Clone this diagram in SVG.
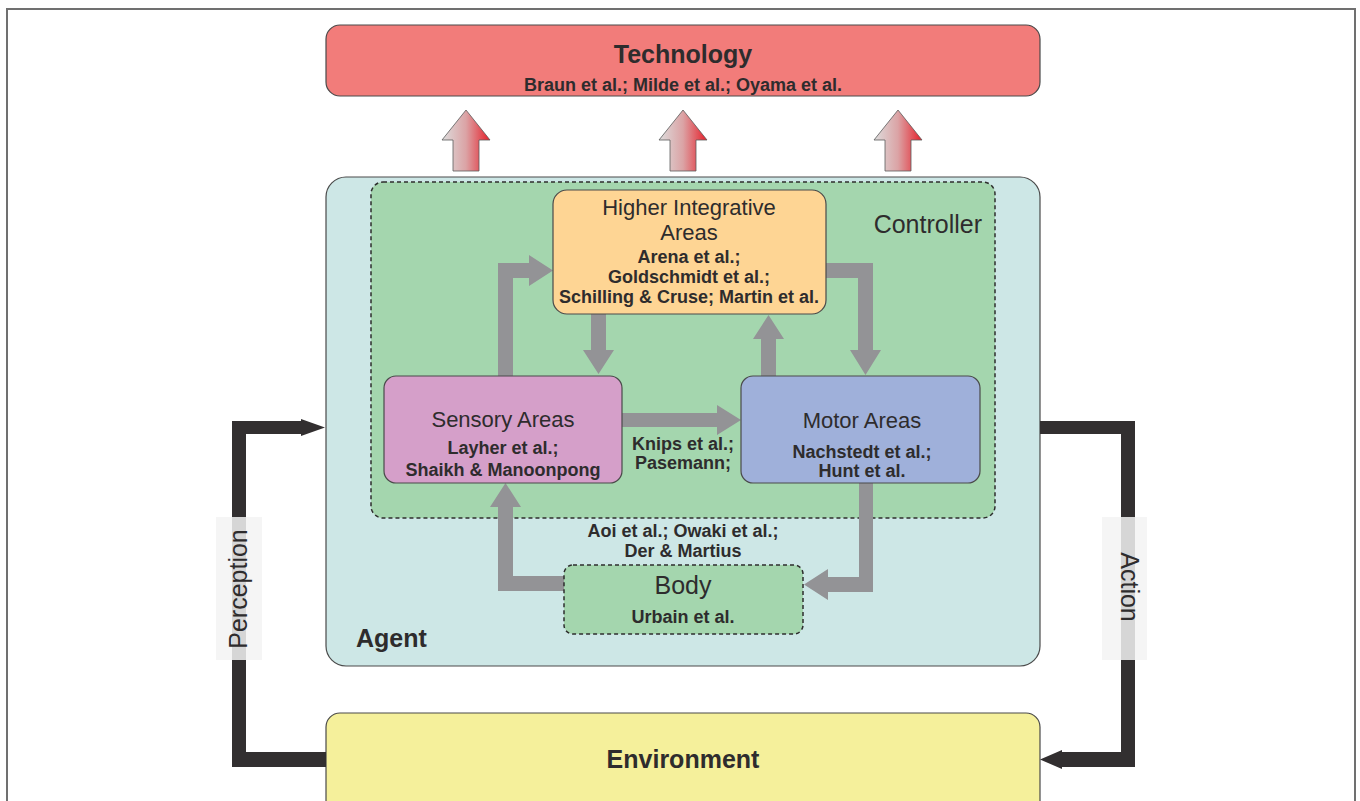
<svg xmlns="http://www.w3.org/2000/svg" width="1360" height="801" viewBox="0 0 1360 801">
<defs>
<linearGradient id="upg" x1="0" y1="0" x2="1" y2="0">
<stop offset="0" stop-color="#dddddd"/>
<stop offset="0.5" stop-color="#dba3a5"/>
<stop offset="1" stop-color="#e61f2a"/>
</linearGradient>
<style>
text{font-family:"Liberation Sans",Arial,sans-serif;fill:#2e2c2d;text-anchor:middle}
.b{font-weight:bold}
.ref{font-weight:bold;font-size:18px}
.lbl{font-size:22px}
.big{font-size:25px}
.box{stroke:#4a4a4a;stroke-width:1.2}
.dash{stroke:#2e2e2e;stroke-width:1.5;stroke-dasharray:4 3}
.gray{fill:#939396}
.blk{fill:#322f30}
.up{fill:url(#upg);stroke:#5a5a5a;stroke-width:0.8}
.tag{fill:#f3f3f3;fill-opacity:0.85}
</style>
</defs>
<rect x="0" y="0" width="1360" height="801" fill="#ffffff"/>
<rect x="7" y="9" width="1348" height="806" fill="none" stroke="#707070" stroke-width="2"/>

<g id="technology">
<rect class="box" x="326" y="25" width="714" height="71" rx="14" fill="#f27c7a"/>
<text class="b big" x="683" y="63">Technology</text>
<text class="ref" x="683" y="91">Braun et al.; Milde et al.; Oyama et al.</text>
</g>

<g id="agent">
<rect class="box" x="326" y="177" width="714" height="489" rx="20" fill="#cde7e6"/>
<text class="b big" x="356" y="647" style="text-anchor:start">Agent</text>
</g>

<g id="controller">
<rect class="dash" x="371" y="182" width="624" height="336" rx="12" fill="#a4d6ae"/>
<text x="982" y="233" style="text-anchor:end;font-size:25px">Controller</text>
</g>

<g id="environment">
<rect class="box" x="326" y="713" width="714" height="110" rx="14" fill="#f5f09b"/>
<text class="b big" x="683" y="768">Environment</text>
</g>

<g id="connectors">
<path class="up" d="M453,171 L453,140 L442,140 L466,110 L490,140 L479,140 L479,171 Z"/>
<path class="up" d="M670,171 L670,140 L659,140 L683,110 L707,140 L696,140 L696,171 Z"/>
<path class="up" d="M885,171 L885,140 L874,140 L898,110 L922,140 L911,140 L911,171 Z"/>
<path class="gray" d="M498,376 L498,263 L529,263 L529,255 L553,270.5 L529,286 L529,278 L513,278 L513,376 Z"/>
<path class="gray" d="M591,314 L606,314 L606,350 L614,350 L598.5,374 L583,350 L591,350 Z"/>
<path class="gray" d="M761,376 L761,339 L753,339 L768.5,315 L784,339 L776,339 L776,376 Z"/>
<path class="gray" d="M826,263 L873,263 L873,350 L881,350 L865.5,375 L850,350 L858,350 L858,278 L826,278 Z"/>
<path class="gray" d="M622,413 L717,413 L717,405 L741,420 L717,435 L717,427 L622,427 Z"/>
<path class="gray" d="M859,483 L873,483 L873,592 L828,592 L828,600 L804,584.5 L828,569 L828,577 L859,577 Z"/>
<path class="gray" d="M564,576 L513,576 L513,507 L521,507 L505.5,483 L490,507 L498,507 L498,591 L564,591 Z"/>
<path class="blk" d="M326,767 L232,767 L232,421 L301,421 L301,419 L325,427.5 L301,436 L301,434 L246,434 L246,752 L326,752 Z"/>
<path class="blk" d="M1040,421 L1135,421 L1135,767 L1062,767 L1062,769 L1040,759.5 L1062,750 L1062,752 L1121,752 L1121,434 L1040,434 Z"/>
<rect class="tag" x="216" y="517" width="46" height="143"/>
<text class="big" transform="translate(247,589) rotate(-90)">Perception</text>
<rect class="tag" x="1102" y="517" width="45" height="143"/>
<text class="big" transform="translate(1121,587) rotate(90)">Action</text>
<text class="ref" x="683" y="450">Knips et al.;</text>
<text class="ref" x="683" y="469">Pasemann;</text>
<text class="ref" x="683" y="537">Aoi et al.; Owaki et al.;</text>
<text class="ref" x="683" y="557">Der &amp; Martius</text>
</g>

<g id="higher">
<rect class="box" x="553" y="190" width="273" height="124" rx="14" fill="#fed594"/>
<text class="lbl" x="689" y="215">Higher Integrative</text>
<text class="lbl" x="689" y="240">Areas</text>
<text class="ref" x="689" y="263">Arena et al.;</text>
<text class="ref" x="689" y="283">Goldschmidt et al.;</text>
<text class="ref" x="689" y="303">Schilling &amp; Cruse; Martin et al.</text>
</g>

<g id="sensory">
<rect class="box" x="384" y="376" width="238" height="107" rx="12" fill="#d59fc9"/>
<text class="lbl" x="503" y="427">Sensory Areas</text>
<text class="ref" x="503" y="454">Layher et al.;</text>
<text class="ref" x="503" y="476">Shaikh &amp; Manoonpong</text>
</g>

<g id="motor">
<rect class="box" x="741" y="376" width="239" height="107" rx="12" fill="#9fb0da"/>
<text class="lbl" x="862" y="428">Motor Areas</text>
<text class="ref" x="862" y="458">Nachstedt et al.;</text>
<text class="ref" x="862" y="477">Hunt et al.</text>
</g>

<g id="body">
<rect class="dash" x="564" y="565" width="239" height="69" rx="9" fill="#a4d6ae"/>
<text x="683" y="594" style="font-size:25px">Body</text>
<text class="ref" x="683" y="623">Urbain et al.</text>
</g>
</svg>
